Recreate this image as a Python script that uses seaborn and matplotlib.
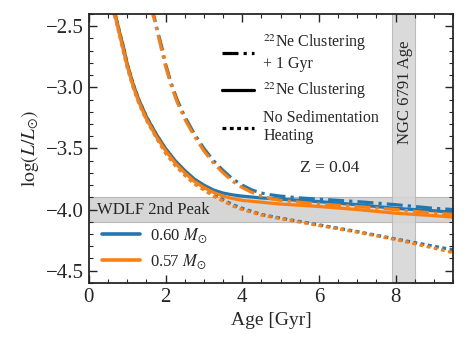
import numpy as np
import pandas as pd
import matplotlib
matplotlib.use('Agg')
import matplotlib.pyplot as plt
from matplotlib.lines import Line2D
import seaborn as sns

# ---------------------------------------------------------
# DATA
# ---------------------------------------------------------
age_060 = [0.62, 0.7, 0.8, 0.9, 1.0, 1.15, 1.3, 1.5, 1.75, 2.0, 2.25, 2.5, 2.75,
           3.0, 3.25, 3.5, 3.75, 4.0, 4.5, 5.0, 6.0, 7.0, 8.0, 9.0, 9.6]
lum_clust_060 = [-2.34, -2.42, -2.55, -2.67, -2.81, -2.97, -3.10, -3.24, -3.38, -3.50,
                 -3.60, -3.68, -3.75, -3.80, -3.84, -3.865, -3.88, -3.89, -3.905,
                 -3.915, -3.935, -3.96, -3.99, -4.01, -4.025]
lum_nosed_060 = [-2.34, -2.42, -2.55, -2.67, -2.81, -2.97, -3.10, -3.24, -3.38, -3.51,
                 -3.61, -3.69, -3.76, -3.82, -3.87, -3.92, -3.96, -3.99, -4.04,
                 -4.07, -4.125, -4.18, -4.24, -4.30, -4.335]

age_057 = [0.60, 0.7, 0.8, 0.9, 1.0, 1.15, 1.3, 1.5, 1.75, 2.0, 2.25, 2.5, 2.75,
           3.0, 3.25, 3.5, 3.75, 4.0, 4.5, 5.0, 6.0, 7.0, 8.0, 9.0, 9.6]
lum_clust_057 = [-2.34, -2.44, -2.57, -2.70, -2.83, -2.99, -3.12, -3.26, -3.40, -3.52,
                 -3.62, -3.70, -3.77, -3.82, -3.86, -3.89, -3.91, -3.925, -3.94,
                 -3.955, -3.975, -4.00, -4.03, -4.05, -4.065]
lum_nosed_057 = [-2.35, -2.45, -2.58, -2.71, -2.84, -3.00, -3.13, -3.27, -3.41, -3.54,
                 -3.64, -3.72, -3.79, -3.84, -3.89, -3.93, -3.97, -4.00, -4.045,
                 -4.075, -4.13, -4.185, -4.245, -4.315, -4.36]

age_offset = 1.0  # "+ 1 Gyr" curves
wdlf_peak = (-4.1, -3.9)
ngc6791_age = (7.9, 8.5)

masses = ['0.60', '0.57']
models = ['clust_1gyr', 'clust', 'nosed']
model_labels = ['$^{22}$Ne Clustering\n+ 1 Gyr', '$^{22}$Ne Clustering',
                'No Sedimentation\nHeating']

rows = []
for m, age, clust, nosed in [('0.60', age_060, lum_clust_060, lum_nosed_060),
                             ('0.57', age_057, lum_clust_057, lum_nosed_057)]:
    for a, c, n in zip(age, clust, nosed):
        rows.append((m, 'clust_1gyr', a + age_offset, c))
        rows.append((m, 'clust', a, c))
        rows.append((m, 'nosed', a, n))
df = pd.DataFrame(rows, columns=['mass', 'model', 'age', 'logL'])

# ---------------------------------------------------------
# STYLE
# ---------------------------------------------------------
sns.set_style('ticks')
plt.rcParams['font.family'] = ['Liberation Serif', 'DejaVu Serif']
plt.rcParams['mathtext.fontset'] = 'stix'
plt.rcParams['xtick.direction'] = 'in'
plt.rcParams['ytick.direction'] = 'in'

palette = {'0.60': '#1f77b4', '0.57': '#ff7f0e'}
dashes = {'clust_1gyr': (5, 1.6, 1, 1.6), 'clust': '', 'nosed': (1.2, 1.1)}

fig = plt.figure(figsize=(4.68, 3.48), dpi=100)
ax = fig.add_axes([0.190, 0.187, 0.778, 0.773])

ax.axhspan(*wdlf_peak, facecolor='#d6d6d6', edgecolor='#b8b8b8', lw=0.8, zorder=0)
ax.axvspan(*ngc6791_age, facecolor='#d6d6d6', edgecolor='#b8b8b8', lw=0.8, zorder=0,
           alpha=0.9)

sns.lineplot(data=df, x='age', y='logL', hue='mass', style='model',
             hue_order=masses, style_order=models, palette=palette, dashes=dashes,
             estimator=None, sort=True, lw=2.3, legend=False, ax=ax)

ax.set_xlim(0, 9.5)
ax.set_ylim(-4.6, -2.4)
ax.set_xticks([0, 2, 4, 6, 8])
ax.set_yticks([-4.5, -4.0, -3.5, -3.0, -2.5])
ax.xaxis.set_minor_locator(matplotlib.ticker.MultipleLocator(0.5))
ax.yaxis.set_minor_locator(matplotlib.ticker.MultipleLocator(0.1))
ax.tick_params(which='both', top=True, right=True, labelsize=15)
ax.tick_params(which='major', length=6, width=1)
ax.tick_params(which='minor', length=3, width=0.8)
for sp in ax.spines.values():
    sp.set_linewidth(1.3)

ax.set_xlabel('Age [Gyr]', fontsize=14)
ax.set_ylabel(r'$\log(L/L_{\odot})$', fontsize=14)

ax.text(0.2, -4.0, 'WDLF 2nd Peak', fontsize=12, va='center', ha='left')
ax.text(6.27, -3.66, 'Z = 0.04', fontsize=12.5, va='center', ha='center')
ax.text(8.26, -3.04, 'NGC 6791 Age', fontsize=12, va='center', ha='center',
        rotation=90)

# linestyle legend
style_handles = [Line2D([], [], color='k', lw=2.3, dashes=dashes[m]) if dashes[m]
                 else Line2D([], [], color='k', lw=2.3) for m in models]
leg1 = ax.legend(style_handles, model_labels, loc='upper left',
                 bbox_to_anchor=(0.365, 0.93), frameon=False, fontsize=11.5,
                 handlelength=2.0, handletextpad=0.6, labelspacing=0.55,
                 borderaxespad=0, borderpad=0)
ax.add_artist(leg1)

# mass legend
mass_handles = [Line2D([], [], color=palette[m], lw=2.6) for m in masses]
ax.legend(mass_handles, [r'0.60 $M_{\odot}$', r'0.57 $M_{\odot}$'], loc='lower left',
          bbox_to_anchor=(0.035, 0.045), frameon=False, fontsize=12,
          handlelength=2.3, handletextpad=0.6, labelspacing=0.4,
          borderaxespad=0, borderpad=0)

fig.savefig('out.png', dpi=100)
